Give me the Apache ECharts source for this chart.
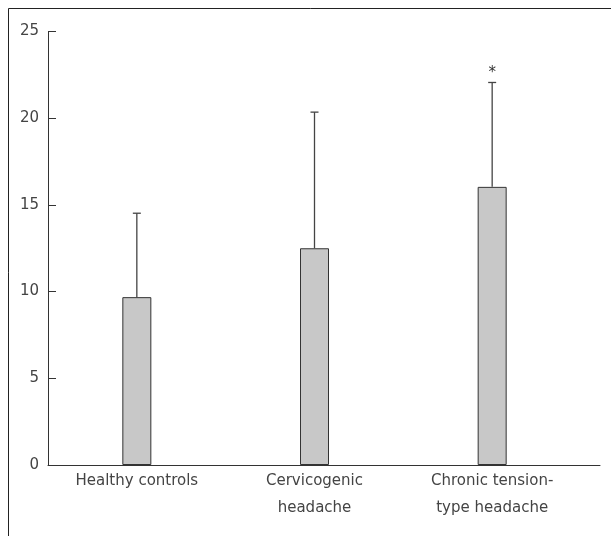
<!DOCTYPE html>
<html>
<head>
<meta charset="utf-8">
<script src="https://cdn.jsdelivr.net/npm/echarts@6/dist/echarts.min.js"></script>
<style>html,body{margin:0;padding:0;background:#fff;}#c{width:611px;height:536px;}</style>
</head>
<body>
<div id="c"></div>
<script>
const categories = ["Healthy controls", "Cervicogenic\nheadache", "Chronic tension-\ntype headache"];
const means = [9.68, 12.5, 16.04];
const upperErrors = [14.52, 20.35, 22.06];
const significance = ["", "", "*"];
const yTicks = [0, 5, 10, 15, 20, 25];

const chart = echarts.init(document.getElementById('c'), null, {renderer: 'canvas'});
const font = '"DejaVu Sans", sans-serif';
const errData = categories.map((c, i) => [i, means[i], upperErrors[i], significance[i]]);

chart.setOption({
  animation: false,
  backgroundColor: '#fff',
  graphic: [{
    type: 'rect', silent: true,
    shape: {x: 8.5, y: 8.5, width: 800, height: 800},
    style: {fill: 'none', stroke: '#222', lineWidth: 1}
  }],
  grid: [
    {left: 48, width: 533, top: 31.5, height: 433.5},
    {left: 48, right: 11, top: 31.5, height: 433.5}
  ],
  xAxis: [
    {
      type: 'category', gridIndex: 0, data: categories,
      axisLine: {show: false}, axisTick: {show: false},
      axisLabel: {color: '#444', fontFamily: font, fontSize: 15, lineHeight: 27, margin: 3, interval: 0}
    },
    {
      type: 'value', gridIndex: 1, min: 0, max: 1,
      axisLine: {show: true, lineStyle: {color: '#333', width: 1}},
      axisTick: {show: false}, axisLabel: {show: false}, splitLine: {show: false}
    }
  ],
  yAxis: [
    {type: 'value', gridIndex: 0, min: 0, max: 25, show: false},
    {
      type: 'value', gridIndex: 1, min: 0, max: 25, interval: 5,
      axisLine: {show: true, lineStyle: {color: '#333', width: 1}},
      axisTick: {show: true, inside: true, length: 8, lineStyle: {color: '#333'}},
      axisLabel: {color: '#444', fontFamily: font, fontSize: 15, margin: 9,
        formatter: v => yTicks.includes(v) ? String(v) : ''},
      splitLine: {show: false}
    }
  ],
  series: [
    {
      type: 'custom', xAxisIndex: 0, yAxisIndex: 0, z: 1,
      data: errData,
      encode: {x: 0, y: [1, 2]},
      renderItem: function (params, api) {
        const x = api.value(0);
        const lo = api.coord([x, api.value(1)]);
        const hi = api.coord([x, api.value(2)]);
        const half = 4;
        const children = [
          {type: 'line', shape: {x1: lo[0], y1: lo[1], x2: hi[0], y2: hi[1]}, style: {stroke: '#444', lineWidth: 1.3}},
          {type: 'line', shape: {x1: hi[0] - half, y1: hi[1], x2: hi[0] + half, y2: hi[1]}, style: {stroke: '#444', lineWidth: 1.3}}
        ];
        const sig = api.value(3);
        if (sig) {
          children.push({type: 'text', style: {text: sig, x: hi[0], y: hi[1] - 2, align: 'center', verticalAlign: 'bottom', fill: '#333', font: '15px ' + font}});
        }
        return {type: 'group', children: children};
      }
    },
    {
      type: 'bar', xAxisIndex: 0, yAxisIndex: 0, z: 2,
      data: means, barWidth: 29,
      itemStyle: {color: '#c8c8c8', borderColor: '#333', borderWidth: 1}
    }
  ]
});
</script>
</body>
</html>
